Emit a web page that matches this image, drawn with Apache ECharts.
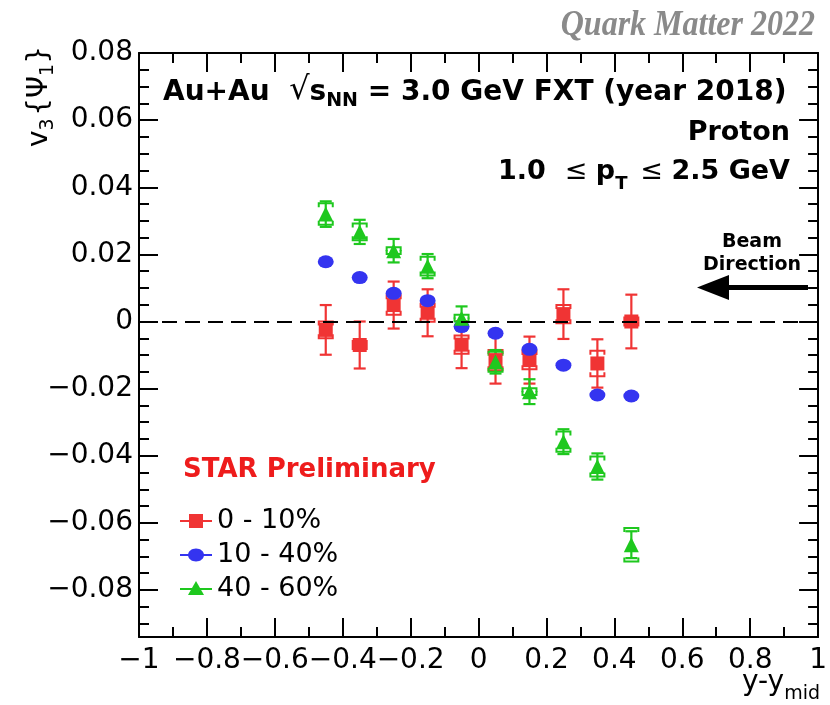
<!DOCTYPE html>
<html>
<head>
<meta charset="utf-8">
<script src="https://cdn.jsdelivr.net/npm/echarts@6/dist/echarts.min.js"></script>
<style>
  html, body { margin: 0; padding: 0; background: #fff; }
  #chart { width: 830px; height: 705px; }
</style>
</head>
<body>
<div id="chart"></div>
<script>
// Rapidity bins (y - y_mid)
const rapidity = [-0.45, -0.35, -0.25, -0.15, -0.05, 0.05, 0.15, 0.25, 0.35, 0.45];

// Centrality classes
const centralityNames = ['0 - 10%', '10 - 40%', '40 - 60%'];

// 0 - 10 %
const v3Central   = [-0.0025, -0.0070, 0.0049, 0.0026, -0.0069, -0.0115, -0.0115, 0.0022, -0.0125, 0.0000];
const statCentral = [0.0074, 0.0070, 0.0070, 0.0070, 0.0070, 0.0070, 0.0070, 0.0074, 0.0072, 0.0080];
const sysCentral  = [0.0025, 0.0012, 0.0029, 0.0027, 0.0027, 0.0030, 0.0027, 0.0027, 0.0038, 0.0012];

// 10 - 40 %
const v3Mid   = [0.0178, 0.0131, 0.0084, 0.0062, -0.0015, -0.0035, -0.0083, -0.0130, -0.0219, -0.0222];
const statMid = [0.0008, 0.0008, 0.0008, 0.0008, 0.0008, 0.0008, 0.0008, 0.0008, 0.0008, 0.0008];
const sysMid  = [0.0008, 0.0008, 0.0008, 0.0008, 0.0008, 0.0008, 0.0008, 0.0008, 0.0008, 0.0008];

// 40 - 60 %
const v3Peripheral   = [0.0320, 0.0267, 0.0211, 0.0165, 0.0010, -0.0120, -0.0209, -0.0358, -0.0432, -0.0665];
const statPeripheral = [0.0038, 0.0036, 0.0035, 0.0036, 0.0035, 0.0035, 0.0037, 0.0037, 0.0039, 0.0040];
const sysPeripheral  = [0.0032, 0.0025, 0.0010, 0.0028, 0.0010, 0.0030, 0.0010, 0.0030, 0.0030, 0.0050];

// Axis ticks
const xMin = -1, xMax = 1, xStep = 0.2;
const yMin = -0.094, yMax = 0.08;
const yTickLabels = [-0.08, -0.06, -0.04, -0.02, 0, 0.02, 0.04, 0.06, 0.08];
const yMinorStep = 0.005;

const FONT = '"DejaVu Sans"';
const colors = ['#f03434', '#3434f0', '#1ec81e'];
const symbols = ['rect', 'circle', 'triangle'];
const symbolSizes = [14, [16, 13], 15];

const groups = [
  { v: v3Central, stat: statCentral, sys: sysCentral },
  { v: v3Mid, stat: statMid, sys: sysMid },
  { v: v3Peripheral, stat: statPeripheral, sys: sysPeripheral }
];

// minor y ticks every 0.005 inside the axis range
const yMinorTicks = [];
for (let k = Math.ceil(yMin / yMinorStep); k * yMinorStep <= yMax + 1e-9; k++) {
  yMinorTicks.push(+(k * yMinorStep).toFixed(4));
}

const minus = s => s.replace('-', '\u2212');
const fmtX = v => (Math.abs(v) < 1e-9 ? '0' : minus(String(+v.toFixed(1))));
const fmtY = v => (Math.abs(v) < 1e-9 ? '0' : minus(v.toFixed(2)));

// text measuring for multi-part labels (sub/superscripts)
const mctx = document.createElement('canvas').getContext('2d');
function measure(text, font) { mctx.font = font; return mctx.measureText(text).width; }

function textRun(parts, opts) {
  const fonts = parts.map(p => `${p.style || 'normal'} ${p.weight || 'normal'} ${p.size}px ${p.family || FONT}`);
  const widths = parts.map((p, i) => measure(p.t, fonts[i]));
  const total = widths.reduce((a, b) => a + b, 0);
  let cx = opts.align === 'right' ? -total : opts.align === 'center' ? -total / 2 : 0;
  const children = parts.map((p, i) => {
    const el = {
      type: 'text', x: cx, y: p.dy || 0,
      style: {
        text: p.t, font: fonts[i], fill: p.color || opts.color || '#000',
        align: 'left', textAlign: 'left', verticalAlign: 'middle', textVerticalAlign: 'middle'
      }
    };
    cx += widths[i];
    return el;
  });
  return { type: 'group', x: opts.x, y: opts.y, rotation: opts.rotation || 0,
           scaleX: opts.scaleX || 1, scaleY: opts.scaleY || 1, children };
}

// statistical error bars (with caps) and systematic brackets
function errorRenderer(color, drawSys) {
  return function (params, api) {
    const x = api.value(0), y = api.value(1), st = api.value(2), sy = api.value(3);
    const top = api.coord([x, y + st]);
    const bot = api.coord([x, y - st]);
    const cap = 6;
    const ls = { stroke: color, lineWidth: 2.2 };
    const children = [
      { type: 'line', shape: { x1: top[0], y1: top[1], x2: bot[0], y2: bot[1] }, style: ls },
      { type: 'line', shape: { x1: top[0] - cap, y1: top[1], x2: top[0] + cap, y2: top[1] }, style: ls },
      { type: 'line', shape: { x1: bot[0] - cap, y1: bot[1], x2: bot[0] + cap, y2: bot[1] }, style: ls }
    ];
    if (drawSys) {
      const sTop = api.coord([x, y + sy]);
      const sBot = api.coord([x, y - sy]);
      const w = 7, leg = 4;
      children.push(
        { type: 'polyline', shape: { points: [[sTop[0] - w, sTop[1] + leg], [sTop[0] - w, sTop[1]], [sTop[0] + w, sTop[1]], [sTop[0] + w, sTop[1] + leg]] }, style: { stroke: color, lineWidth: 2, fill: null } },
        { type: 'polyline', shape: { points: [[sBot[0] - w, sBot[1] - leg], [sBot[0] - w, sBot[1]], [sBot[0] + w, sBot[1]], [sBot[0] + w, sBot[1] - leg]] }, style: { stroke: color, lineWidth: 2, fill: null } }
      );
    }
    return { type: 'group', children };
  };
}

const series = [];
groups.forEach((g, i) => {
  const rows = rapidity.map((x, k) => [x, g.v[k], g.stat[k], g.sys[k]]);
  series.push({
    type: 'custom', name: centralityNames[i] + ' err', xAxisIndex: 0, yAxisIndex: 0,
    renderItem: errorRenderer(colors[i], i !== 1), data: rows, z: 3, silent: true,
    encode: { x: 0, y: 1 }
  });
});
groups.forEach((g, i) => {
  series.push({
    type: 'scatter', name: centralityNames[i], xAxisIndex: 0, yAxisIndex: 0,
    data: rapidity.map((x, k) => [x, g.v[k]]),
    symbol: symbols[i], symbolSize: symbolSizes[i],
    itemStyle: { color: colors[i], opacity: 1 }, z: 4, silent: true
  });
});
// dashed zero line
series[0].markLine = {
  silent: true, symbol: 'none', label: { show: false },
  lineStyle: { color: '#000', width: 2, type: [15, 8] },
  data: [{ yAxis: 0 }]
};

const axisLineStyle = { color: '#000', width: 2 };
function xAxisDef(pos, showLabels) {
  return {
    type: 'value', position: pos, min: xMin, max: xMax, interval: xStep,
    axisLine: { show: true, onZero: false, lineStyle: axisLineStyle },
    axisTick: { show: true, inside: true, length: 19, lineStyle: axisLineStyle },
    minorTick: { show: true, splitNumber: 2, length: 10, lineStyle: axisLineStyle },
    splitLine: { show: false }, minorSplitLine: { show: false },
    axisLabel: { show: showLabels, formatter: fmtX, fontFamily: FONT, fontSize: 28, color: '#000', margin: 10 }
  };
}
function yAxisDef(pos, major, showLabels) {
  const vals = major ? yTickLabels : yMinorTicks;
  return {
    type: 'value', position: pos, min: yMin, max: yMax,
    axisLine: { show: major, onZero: false, lineStyle: axisLineStyle },
    axisTick: { show: true, inside: true, length: major ? 19 : 10, lineStyle: axisLineStyle, customValues: vals },
    splitLine: { show: false },
    axisLabel: { show: showLabels, customValues: yTickLabels, formatter: fmtY, fontFamily: FONT, fontSize: 28, color: '#000', margin: 6 }
  };
}

// legend drawn by hand: line with marker, then label
const legendGraphics = [];
const legendRows = [521, 555, 589];
centralityNames.forEach((name, i) => {
  const y = legendRows[i];
  legendGraphics.push({ type: 'line', shape: { x1: 180, y1: y, x2: 212, y2: y }, style: { stroke: colors[i], lineWidth: 2 } });
  if (i === 0) legendGraphics.push({ type: 'rect', shape: { x: 189, y: y - 7, width: 14, height: 14 }, style: { fill: colors[i] } });
  if (i === 1) legendGraphics.push({ type: 'ellipse', shape: { cx: 196, cy: y, rx: 8, ry: 6.5 }, style: { fill: colors[i] } });
  if (i === 2) legendGraphics.push({ type: 'polygon', shape: { points: [[196, y - 8], [188, y + 6], [204, y + 6]] }, style: { fill: colors[i] } });
  legendGraphics.push({ type: 'text', x: 217, y: y, style: { text: name, font: `normal 27px ${FONT}`, fill: '#000', verticalAlign: 'middle', textVerticalAlign: 'middle' } });
});

const graphics = [
  // conference tag
  { type: 'text', x: 815, y: 26, scaleY: 1.12,
    style: { text: 'Quark Matter 2022', font: 'italic bold 32px "Liberation Serif"', fill: '#8a8a8a',
             align: 'right', textAlign: 'right', verticalAlign: 'middle', textVerticalAlign: 'middle' } },
  // y axis title  v3{Ψ1}
  textRun([
    { t: 'v', size: 28 }, { t: '3', size: 19, dy: 8 }, { t: ' ', size: 8 },
    { t: '{', size: 28 }, { t: '\u03A8', size: 28 }, { t: '1', size: 19, dy: 8 }, { t: '}', size: 28 }
  ], { x: 40, y: 46, align: 'right', rotation: Math.PI / 2 }),
  // x axis title  y-y_mid
  textRun([{ t: 'y-y', size: 28 }, { t: 'mid', size: 19, dy: 11 }], { x: 820, y: 683, align: 'right' }),
  // collision system
  textRun([
    { t: 'Au+Au  ', size: 28, weight: 'bold' },
    { t: '\u221A', size: 32, dy: -2 },
    { t: 's', size: 28, weight: 'bold' },
    { t: 'NN', size: 19, weight: 'bold', dy: 8 },
    { t: ' = 3.0 GeV FXT (year 2018)', size: 28, weight: 'bold' }
  ], { x: 163, y: 93, align: 'left' }),
  textRun([{ t: 'Proton', size: 27, weight: 'bold' }], { x: 790, y: 133, align: 'right' }),
  textRun([
    { t: '1.0  ', size: 27, weight: 'bold' }, { t: '\u2264 ', size: 27 },
    { t: 'p', size: 27, weight: 'bold' }, { t: 'T', size: 18, weight: 'bold', dy: 12 },
    { t: '  ', size: 20 }, { t: '\u2264 ', size: 27 }, { t: '2.5 GeV', size: 27, weight: 'bold' }
  ], { x: 790, y: 172, align: 'right' }),
  // beam direction
  textRun([{ t: 'Beam', size: 19, weight: 'bold' }], { x: 752, y: 242, align: 'center' }),
  textRun([{ t: 'Direction', size: 19, weight: 'bold' }], { x: 752, y: 265, align: 'center' }),
  { type: 'rect', shape: { x: 726, y: 285, width: 82, height: 5 }, style: { fill: '#000' } },
  { type: 'polygon', shape: { points: [[697, 287.5], [729, 275], [729, 300]] }, style: { fill: '#000' } },
  // preliminary tag
  { type: 'text', x: 183, y: 470, style: { text: 'STAR Preliminary', font: `bold 26px ${FONT}`, fill: '#ee1c1c', verticalAlign: 'middle', textVerticalAlign: 'middle' } }
].concat(legendGraphics);

const chart = echarts.init(document.getElementById('chart'), null, { renderer: 'canvas' });
chart.setOption({
  animation: false,
  backgroundColor: '#fff',
  grid: { left: 139, right: 5, top: 53, bottom: 68, containLabel: false },
  xAxis: [xAxisDef('bottom', true), xAxisDef('top', false)],
  yAxis: [yAxisDef('left', true, true), yAxisDef('left', false, false),
          yAxisDef('right', true, false), yAxisDef('right', false, false)],
  series,
  graphic: graphics
});
</script>
</body>
</html>
